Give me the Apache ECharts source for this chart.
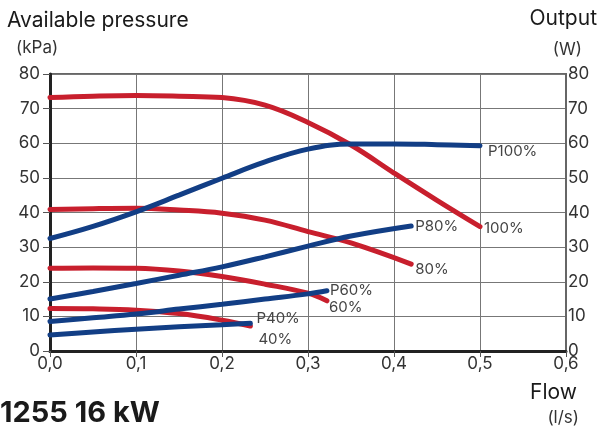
<!DOCTYPE html>
<html><head><meta charset="utf-8">
<script src="https://cdn.jsdelivr.net/npm/echarts@6/dist/echarts.min.js"></script>
<style>html,body{margin:0;padding:0;background:#fff}#c{width:601px;height:430px}</style>
</head><body><div id="c"></div>
<script>
// Flow (l/s) sample points
const flow100 = [0, 0.05, 0.1, 0.15, 0.2, 0.25, 0.3, 0.35, 0.4, 0.45, 0.5];
const flow80 = [0, 0.05, 0.1, 0.15, 0.2, 0.25, 0.3, 0.35, 0.42];
const flow60 = [0, 0.05, 0.1, 0.15, 0.2, 0.25, 0.3, 0.322];
const flow40 = [0, 0.05, 0.1, 0.15, 0.2, 0.233];
// Available pressure (kPa)
const pressure100 = [73.2, 73.6, 73.8, 73.6, 73.2, 71, 66, 59.5, 51.4, 43.5, 35.9];
const pressure80 = [40.9, 41.1, 41.2, 40.7, 39.8, 37.8, 34.5, 31.2, 25.1];
const pressure60 = [23.9, 24, 23.9, 23.1, 21.5, 19.3, 16.7, 14.5];
const pressure40 = [12.3, 12.2, 11.8, 10.8, 8.9, 7.2];
// Output (W)
const power100 = [32.5, 36, 40.2, 45, 49.9, 54.6, 58.3, 59.8, 59.8, 59.6, 59.3];
const power80 = [15, 17.2, 19.5, 21.9, 24.3, 27.2, 30.3, 33.2, 36.1];
const power60 = [8.5, 9.6, 10.7, 12.1, 13.5, 15.0, 16.5, 17.4];
const power40 = [4.6, 5.5, 6.3, 7.0, 7.6, 8.0];
// Labels
const pressureLabels = ['100%', '80%', '60%', '40%'];
const powerLabels = ['P100%', 'P80%', 'P60%', 'P40%'];
const xTicks = ['0,0', '0,1', '0,2', '0,3', '0,4', '0,5', '0,6'];

const RED = '#c81f2d', BLUE = '#123e85';
const FONT = 'Inter, Roboto, sans-serif';

function mk(xs, ys, color, label, offset, yAxisIndex) {
  return {
    type: 'line', data: xs.map((x, i) => [x, ys[i]]), smooth: 0.4, symbol: 'none',
    yAxisIndex: yAxisIndex,
    lineStyle: { color: color, width: 5, cap: 'round' }, z: 3,
    endLabel: { show: true, formatter: label, distance: 4, offset: offset,
      color: '#444', fontSize: 15, fontFamily: FONT }
  };
}

const chart = echarts.init(document.getElementById('c'), null, { renderer: 'canvas' });
const axisLabelStyle = { color: '#333', fontSize: 17, fontFamily: FONT };
chart.setOption({
  animation: false,
  grid: { left: 50, right: 35, top: 74, bottom: 79, show: true, borderColor: '#666', borderWidth: 2 },
  xAxis: {
    type: 'value', min: 0, max: 0.6, interval: 0.1,
    axisLine: { show: true, lineStyle: { color: '#222', width: 3 } },
    axisTick: { show: true, length: 6, lineStyle: { color: '#555' } },
    splitLine: { show: true, lineStyle: { color: '#777', width: 1 } },
    axisLabel: Object.assign({ margin: 4, formatter: (v) => xTicks[Math.round(v * 10)] }, axisLabelStyle)
  },
  yAxis: [{
    type: 'value', min: 0, max: 80, interval: 10, position: 'left',
    axisLine: { show: true, lineStyle: { color: '#222', width: 3 } },
    axisTick: { show: true, length: 7, lineStyle: { color: '#555' } },
    splitLine: { show: true, lineStyle: { color: '#777', width: 1 } },
    axisLabel: Object.assign({ margin: 10 }, axisLabelStyle)
  }, {
    type: 'value', min: 0, max: 80, interval: 10, position: 'right',
    axisLine: { show: true, lineStyle: { color: '#666', width: 2 } },
    axisTick: { show: false },
    splitLine: { show: false },
    axisLabel: Object.assign({ margin: 2 }, axisLabelStyle)
  }],
  series: [
    mk(flow100, pressure100, RED, pressureLabels[0], [0, 2], 0),
    mk(flow80, pressure80, RED, pressureLabels[1], [0, 5], 0),
    mk(flow60, pressure60, RED, pressureLabels[2], [-2, 7], 0),
    mk(flow40, pressure40, RED, pressureLabels[3], [4, 13], 0),
    mk(flow100, power100, BLUE, powerLabels[0], [4, 6], 1),
    mk(flow80, power80, BLUE, powerLabels[1], [0, 0], 1),
    mk(flow60, power60, BLUE, powerLabels[2], [-1, 0], 1),
    mk(flow40, power40, BLUE, powerLabels[3], [2, -5], 1)
  ],
  graphic: [
    { type: 'text', left: 7, top: 10, style: { text: 'Available pressure', fontSize: 21, fontFamily: FONT, fill: '#1a1a1a' } },
    { type: 'text', left: 16, top: 39, style: { text: '(kPa)', fontSize: 17, fontFamily: FONT, fill: '#333' } },
    { type: 'text', right: 4, top: 8, style: { text: 'Output', fontSize: 21, fontFamily: FONT, fill: '#1a1a1a' } },
    { type: 'text', right: 19, top: 41, style: { text: '(W)', fontSize: 17, fontFamily: FONT, fill: '#333' } },
    { type: 'text', right: 24, top: 382, style: { text: 'Flow', fontSize: 21, fontFamily: FONT, fill: '#1a1a1a' } },
    { type: 'text', right: 22, top: 409, style: { text: '(l/s)', fontSize: 17, fontFamily: FONT, fill: '#333' } },
    { type: 'text', left: 0, top: 399, style: { text: '1255 16 kW', fontSize: 29, fontWeight: 'bold', fontFamily: FONT, fill: '#1a1a1a' } }
  ]
});
</script></body></html>
